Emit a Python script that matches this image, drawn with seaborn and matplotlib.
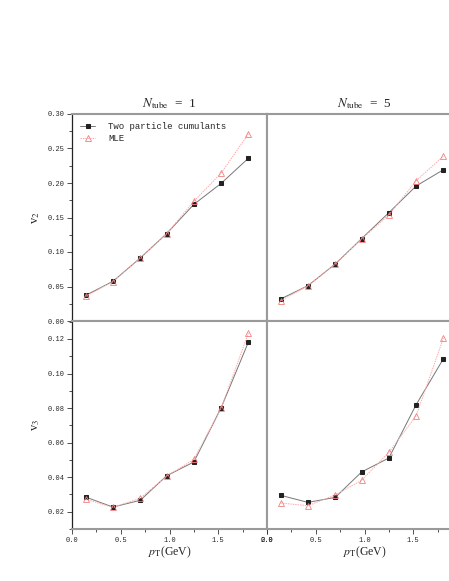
import numpy as np
import pandas as pd
import matplotlib
matplotlib.use("Agg")
import matplotlib.pyplot as plt
from matplotlib.ticker import MultipleLocator, FixedLocator, FormatStrFormatter
import seaborn as sns

sns.set_style("ticks")
plt.rcParams['font.family'] = ['Liberation Mono', 'DejaVu Sans Mono']
plt.rcParams['mathtext.fontset'] = 'stix'

pt = [0.14, 0.42, 0.70, 0.97, 1.25, 1.53, 1.81]
v2_n1_cum = [0.0372, 0.0575, 0.0913, 0.1266, 0.1690, 0.1995, 0.2360]
v2_n1_mle = [0.0357, 0.0572, 0.0910, 0.1264, 0.1735, 0.2145, 0.2714]
v2_n5_cum = [0.0319, 0.0512, 0.0826, 0.1193, 0.1570, 0.1957, 0.2193]
v2_n5_mle = [0.0295, 0.0510, 0.0824, 0.1190, 0.1536, 0.2033, 0.2390]
v3_n1_cum = [0.0285, 0.0227, 0.0266, 0.0408, 0.0488, 0.0802, 0.1183]
v3_n1_mle = [0.0272, 0.0225, 0.0278, 0.0405, 0.0503, 0.0800, 0.1235]
v3_n5_cum = [0.0295, 0.0254, 0.0283, 0.0430, 0.0511, 0.0820, 0.1086]
v3_n5_mle = [0.0250, 0.0235, 0.0297, 0.0382, 0.0544, 0.0756, 0.1206]
titles = [r"$N_{\rm tube}$  =  1", r"$N_{\rm tube}$  =  5"]
methods = ["Two particle cumulants", "MLE"]

W, H = 449, 581
fig = plt.figure(figsize=(W / 100, H / 100), dpi=100)

def fx(px):
    return px / W

def fy(py):
    return 1 - py / H

x0, xm, x1 = 72, 267, 462
yt, ym, yb = 114, 321, 529
axes = {
    (0, 0): fig.add_axes([fx(x0), fy(ym), fx(xm - x0), (ym - yt) / H]),
    (0, 1): fig.add_axes([fx(xm), fy(ym), fx(x1 - xm), (ym - yt) / H]),
    (1, 0): fig.add_axes([fx(x0), fy(yb), fx(xm - x0), (yb - ym) / H]),
    (1, 1): fig.add_axes([fx(xm), fy(yb), fx(x1 - xm), (yb - ym) / H]),
}

data = {
    (0, 0): (v2_n1_cum, v2_n1_mle),
    (0, 1): (v2_n5_cum, v2_n5_mle),
    (1, 0): (v3_n1_cum, v3_n1_mle),
    (1, 1): (v3_n5_cum, v3_n5_mle),
}

gray = '#9a9a9a'
tick_fs = 5.0
serif = ['Liberation Serif', 'DejaVu Serif']
for (r, c), ax in axes.items():
    cum, mle = data[(r, c)]
    df_c = pd.DataFrame({'pt': pt, 'v': cum})
    df_m = pd.DataFrame({'pt': pt, 'v': mle})
    sns.lineplot(data=df_c, x='pt', y='v', ax=ax, color='#777777', lw=0.7,
                 marker='s', markersize=3.0, markerfacecolor='#222222',
                 markeredgecolor='#222222', label=methods[0], legend=False)
    sns.lineplot(data=df_m, x='pt', y='v', ax=ax, color='#ffa8a8', lw=0.7,
                 linestyle=(0, (1.5, 1.0)), marker='^', markersize=3.8,
                 markerfacecolor='none', markeredgecolor='#f28080',
                 markeredgewidth=0.6, label=methods[1], legend=False)
    ax.set_xlim(0, 2.0)
    if r == 0:
        ax.set_ylim(0, 0.30)
        ax.yaxis.set_major_locator(MultipleLocator(0.05))
        ax.yaxis.set_minor_locator(MultipleLocator(0.025))
    else:
        ax.set_ylim(0.01, 0.1304)
        ax.yaxis.set_major_locator(MultipleLocator(0.02))
        ax.yaxis.set_minor_locator(MultipleLocator(0.01))
    ax.yaxis.set_major_formatter(FormatStrFormatter('%.2f'))
    if c == 0:
        ax.xaxis.set_major_locator(MultipleLocator(0.5))
    else:
        ax.xaxis.set_major_locator(FixedLocator([0.0, 0.5, 1.0, 1.5]))
    ax.xaxis.set_minor_locator(MultipleLocator(0.25))
    ax.xaxis.set_major_formatter(FormatStrFormatter('%.1f'))
    for s in ax.spines.values():
        s.set_color(gray)
        s.set_linewidth(1.5)
        s.set_visible(True)
    if c == 0:
        ax.spines['left'].set_color('#222222')
        ax.spines['left'].set_linewidth(0.9)
    ax.tick_params(axis='both', which='major', direction='out', length=3.5,
                   width=0.6, color='#333333', labelsize=tick_fs, pad=2)
    ax.tick_params(axis='both', which='minor', direction='out', length=2,
                   width=0.6, color='#333333')
    ax.tick_params(axis='y', which='both', left=(c == 0), labelleft=(c == 0), right=False)
    ax.tick_params(axis='x', which='both', bottom=(r == 1), labelbottom=(r == 1), top=False)
    ax.set_xlabel('')
    ax.set_ylabel('')
    if r == 0:
        ax.set_title(titles[c], fontsize=9.5, pad=5, family=serif)
    if r == 1:
        ax.set_xlabel(r"$p_{\rm T}$(GeV)", fontsize=8.5, labelpad=1, family=serif)
    if c == 0:
        ax.set_ylabel(r"v$_{%d}$" % (2 if r == 0 else 3), fontsize=9, labelpad=4,
                      family=serif)

ax = axes[(0, 0)]
ax.legend(loc='upper left', frameon=False, fontsize=6.5, handlelength=1.7,
          handletextpad=1.4, labelspacing=0.3)

fig.savefig('out.png', dpi=100)
